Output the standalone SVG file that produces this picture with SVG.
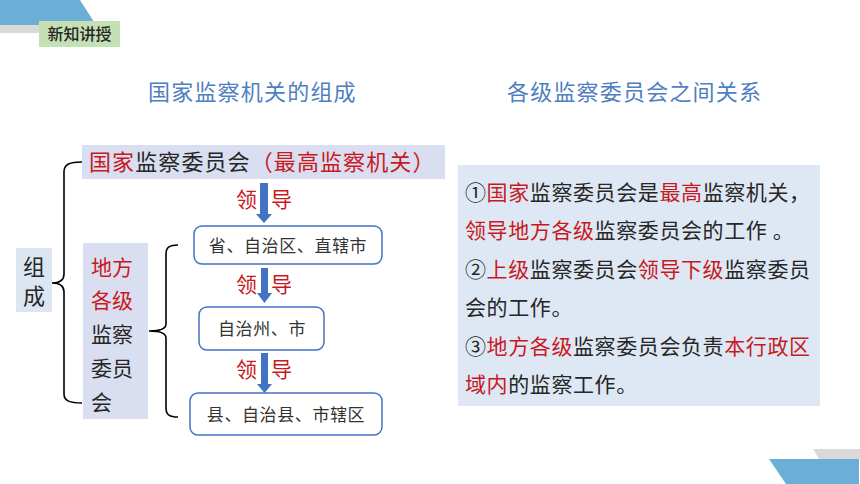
<svg xmlns="http://www.w3.org/2000/svg" width="860" height="484" viewBox="0 0 860 484">
<style>
text{font-family:"Noto Sans CJK SC","Noto Sans",sans-serif;fill:#262626;}
.r{fill:#C8191E;}
.title{font-size:22px;fill:#4F7FBF;letter-spacing:1.2px;}
.box{fill:#fff;stroke:#4472C4;stroke-width:1.5;}
.bt{font-size:17px;text-anchor:middle;letter-spacing:0.6px;fill:#333;}
.lead{font-size:21px;fill:#C8191E;}
.brace{fill:none;stroke:#000;stroke-width:1.6;}
.arrow{fill:#4472C4;}
.p{font-size:21px;letter-spacing:0.6px;}
</style>
<rect width="860" height="484" fill="#fff"/>
<g id="decor">
<polygon points="0,0 80,0 96,25 0,25" fill="#6BAED6"/>
<rect x="0" y="25" width="40" height="8" fill="#D9D9D9"/>
<rect x="39" y="21" width="81" height="26" fill="#C5E0B4"/>
<text x="79.5" y="40" font-size="16" font-weight="500" text-anchor="middle" fill="#111">新知讲授</text>
<polygon points="813,449 860,449 860,459 819,459" fill="#D9D9D9"/>
<polygon points="769,459 859,459 859,484 786,484" fill="#6BAED6"/>
</g>
<g id="titles">
<text class="title" x="148" y="100">国家监察机关的组成</text>
<text class="title" x="507" y="100">各级监察委员会之间关系</text>
</g>
<g id="connectors">
<path class="brace" d="M82,162 C70,162 64,164 64,172 L64,274 C64,280 60,283 52,283 C60,283 64,286 64,292 L64,394 C64,401 70,403 82,403"/>
<path class="brace" d="M178,245 C170,245 166,247 166,254 L166,324 C166,329 160,331 149,331 C160,331 166,333 166,338 L166,408 C166,415 170,417 178,417"/>
<polygon class="arrow" points="260,183 268,183 268,214 272,214 264,223 256,214 260,214"/>
<polygon class="arrow" points="261,268 268,268 268,293 272,293 264.5,303 257,293 261,293"/>
<polygon class="arrow" points="261,353 268,353 268,384 272,384 264.5,393 257,384 261,384"/>
<text class="lead" x="236" y="207">领</text>
<text class="lead" x="271" y="207">导</text>
<text class="lead" x="236" y="292">领</text>
<text class="lead" x="271" y="292">导</text>
<text class="lead" x="236" y="377">领</text>
<text class="lead" x="271" y="377">导</text>
</g>
<g id="node-zucheng">
<rect x="16" y="248" width="36" height="64" fill="#DCE6F2"/>
<text x="34" y="275" font-size="22" text-anchor="middle">组</text>
<text x="34" y="304" font-size="22" text-anchor="middle">成</text>
</g>
<g id="node-guojia">
<rect x="82" y="145" width="363" height="34" fill="#D9DFF0"/>
<text x="89" y="170" font-size="22" letter-spacing="1.1"><tspan class="r">国家</tspan>监察委员会<tspan class="r">（最高监察机关）</tspan></text>
</g>
<g id="node-difang">
<rect x="83" y="243" width="65" height="176" fill="#D9DFF0"/>
<text x="91" y="275" font-size="21" class="r">地方</text>
<text x="91" y="308" font-size="21" class="r">各级</text>
<text x="91" y="342" font-size="21">监察</text>
<text x="91" y="376" font-size="21">委员</text>
<text x="91" y="410" font-size="21">会</text>
</g>
<g id="node-sheng">
<rect class="box" x="194" y="226" width="188" height="38" rx="8"/>
<text class="bt" x="288" y="252">省、自治区、直辖市</text>
</g>
<g id="node-zhou">
<rect class="box" x="199" y="307" width="125" height="43" rx="8"/>
<text class="bt" x="262" y="335">自治州、市</text>
</g>
<g id="node-xian">
<rect class="box" x="190" y="393" width="192" height="42" rx="8"/>
<text class="bt" x="286" y="421">县、自治县、市辖区</text>
</g>
<g id="node-relation">
<rect x="458" y="165" width="362" height="241" fill="#DEE8F4"/>
<text class="p" x="465" y="200">①<tspan class="r">国家</tspan>监察委员会是<tspan class="r">最高</tspan>监察机关，</text>
<text class="p" x="465" y="238"><tspan class="r">领导地方各级</tspan>监察委员会的工作 。</text>
<text class="p" x="465" y="277">②<tspan class="r">上级</tspan>监察委员会<tspan class="r">领导下级</tspan>监察委员</text>
<text class="p" x="465" y="315">会的工作。</text>
<text class="p" x="465" y="354">③<tspan class="r">地方各级</tspan>监察委员会负责<tspan class="r">本行政区</tspan></text>
<text class="p" x="465" y="392"><tspan class="r">域内</tspan>的监察工作。</text>
</g>
</svg>
